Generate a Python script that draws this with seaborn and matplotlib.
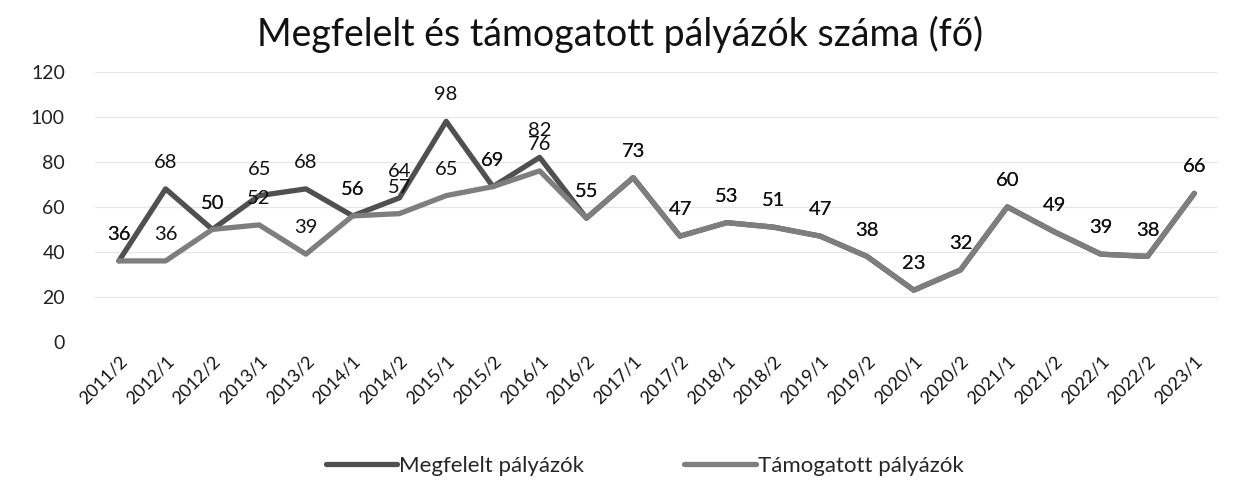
import matplotlib
matplotlib.use("Agg")
import matplotlib.pyplot as plt
import seaborn as sns
import pandas as pd

categories = ["2011/2", "2012/1", "2012/2", "2013/1", "2013/2", "2014/1", "2014/2",
              "2015/1", "2015/2", "2016/1", "2016/2", "2017/1", "2017/2", "2018/1",
              "2018/2", "2019/1", "2019/2", "2020/1", "2020/2", "2021/1", "2021/2",
              "2022/1", "2022/2", "2023/1"]
megfelelt = [36, 68, 50, 65, 68, 56, 64, 98, 69, 82, 55, 73, 47, 53, 51, 47, 38,
             23, 32, 60, 49, 39, 38, 66]
tamogatott = [36, 36, 50, 52, 39, 56, 57, 65, 69, 76, 55, 73, 47, 53, 51, 47, 38,
              23, 32, 60, 49, 39, 38, 66]
series_names = ["Megfelelt pályázók", "Támogatott pályázók"]
title = "Megfelelt és támogatott pályázók száma (fő)"
yticks = [0, 20, 40, 60, 80, 100, 120]

sns.set_theme(style="white")
plt.rcParams["font.family"] = ["Lato", "DejaVu Sans"]

df = pd.DataFrame({
    "Időszak": categories * 2,
    "Fő": megfelelt + tamogatott,
    "Sorozat": [series_names[0]] * len(categories) + [series_names[1]] * len(categories),
})

palette = {series_names[0]: "#505050", series_names[1]: "#7e7e7e"}

fig = plt.figure(figsize=(12.4, 4.92), dpi=100)
ax = fig.add_axes([0.077, 0.305, 0.905, 0.549])

sns.lineplot(data=df, x="Időszak", y="Fő", hue="Sorozat", palette=palette,
             sort=False, linewidth=3.8, ax=ax, legend=True)

ax.set_ylim(0, 120)
ax.set_xlim(-0.5, len(categories) - 0.5)
ax.set_yticks(yticks)
ax.set_yticklabels([str(t) for t in yticks], fontsize=14, color="#222222")
ax.set_xticks(range(len(categories)))
ax.set_xticklabels(categories, rotation=45, ha="right", rotation_mode="anchor",
                   fontsize=13, color="#111111")
ax.tick_params(axis="x", length=0, pad=8)
ax.tick_params(axis="y", length=0, pad=22)
ax.yaxis.grid(True, color="#e6e6e6", linewidth=0.8)
ax.xaxis.grid(False)
for s in ax.spines.values():
    s.set_visible(False)
ax.set_xlabel("")
ax.set_ylabel("")

for vals in (megfelelt, tamogatott):
    for i, v in enumerate(vals):
        ax.annotate(str(v), (i, v), xytext=(0, 19), textcoords="offset points",
                    ha="center", va="center", fontsize=14.5, color="#111111")

fig.suptitle(title, fontsize=27, y=0.93, va="center", color="#111111")

handles, labels = ax.get_legend_handles_labels()
ax.legend_.remove()
fig.legend(handles, labels, loc="center", bbox_to_anchor=(0.52, 0.053), ncol=2,
           frameon=False, fontsize=16, handlelength=3.2, columnspacing=4.5,
           handletextpad=0.1)

fig.savefig("out.png", dpi=100, facecolor="white")
